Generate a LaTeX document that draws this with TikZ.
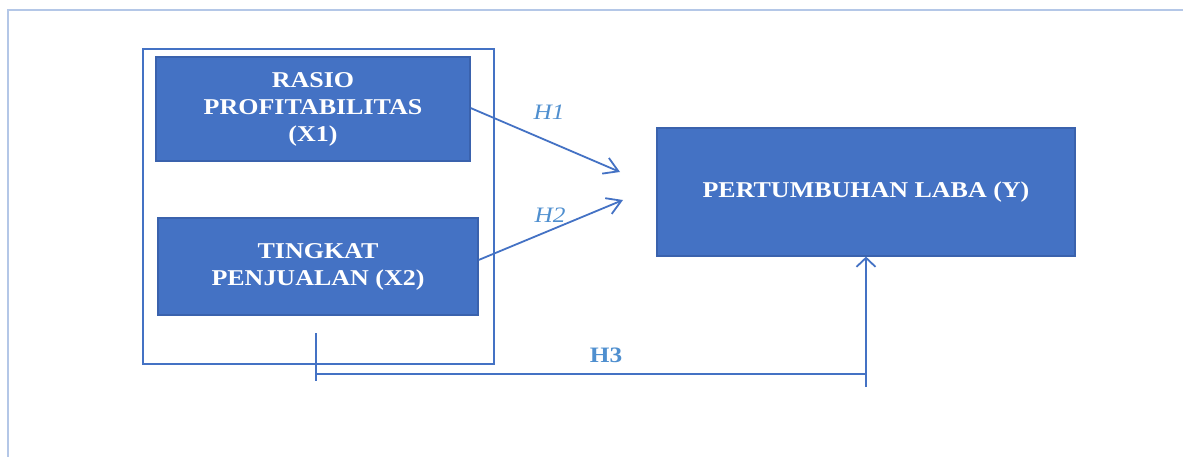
\documentclass[tikz,border=0pt]{standalone}
\usepackage{fontspec}
\setmainfont{Liberation Serif}[FakeStretch=1.15]
\usetikzlibrary{arrows.meta}
\definecolor{boxblue}{HTML}{4472C4}
\definecolor{boxedge}{HTML}{3A62AD}
\definecolor{frameblue}{HTML}{B4C7E7}
\definecolor{hlabel}{HTML}{4F8FCF}
\tikzset{
  varbox/.style={draw=boxedge, line width=1.2pt, fill=boxblue, text=white,
    font=\fontsize{22.6}{27}\selectfont\bfseries, align=center, inner sep=0pt},
  conn/.style={draw=boxblue, line width=1.8pt},
  harrow/.style={conn, -{Straight Barb[length=14pt,width=17pt,line width=1.8pt]}},
  hlab/.style={text=hlabel, font=\fontsize{22}{26}\selectfont\itshape, inner sep=0pt},
}
\begin{document}
\begin{tikzpicture}[x=1pt,y=-1pt]
\useasboundingbox (0,0) rectangle (1183,457);
% outer frame
\coordinate (ob) at (8,457);
\coordinate (otl) at (8,10);
\coordinate (otr) at (1183,10);
\draw[frameblue, line width=2pt] (ob) -- (otl) -- (otr);
% inner group frame
\node[draw=boxblue, line width=1.8pt, minimum width=351pt, minimum height=315pt, inner sep=0pt] (grp) at (318.5,206.5) {};
% boxes
\node[varbox, minimum width=314pt, minimum height=104pt] (X1) at (313,109) {RASIO\\PROFITABILITAS\\(X1)};
\node[varbox, minimum width=320pt, minimum height=97pt] (X2) at (318,266.5) {TINGKAT\\PENJUALAN (X2)};
\node[varbox, minimum width=418pt, minimum height=128pt] (Y) at (866,192) {PERTUMBUHAN LABA (Y)};
% arrow tips
\coordinate (t1) at (620,172);
\coordinate (t2) at (623,200);
\draw[harrow] ([yshift=1pt]X1.east) -- (t1);
\draw[harrow] ([yshift=6.5pt]X2.east) -- (t2);
\node[hlab] (h1) at (549,112) {H1};
\node[hlab] (h2) at (550,215) {H2};
% H3 path
\coordinate (a1) at (316,333);
\coordinate (a2) at (316,381);
\coordinate (b1) at (316,374);
\coordinate (b2) at (866,374);
\coordinate (c1) at (866,387);
\draw[conn] (a1) -- (a2);
\draw[conn] (b1) -- (b2);
\draw[conn, -{Straight Barb[length=9pt,width=19pt,line width=1.8pt]}] (c1) -- (Y.south);
\node[text=hlabel, font=\fontsize{22}{26}\selectfont\bfseries, inner sep=0pt] (h3) at (606,355) {H3};
\end{tikzpicture}
\end{document}
